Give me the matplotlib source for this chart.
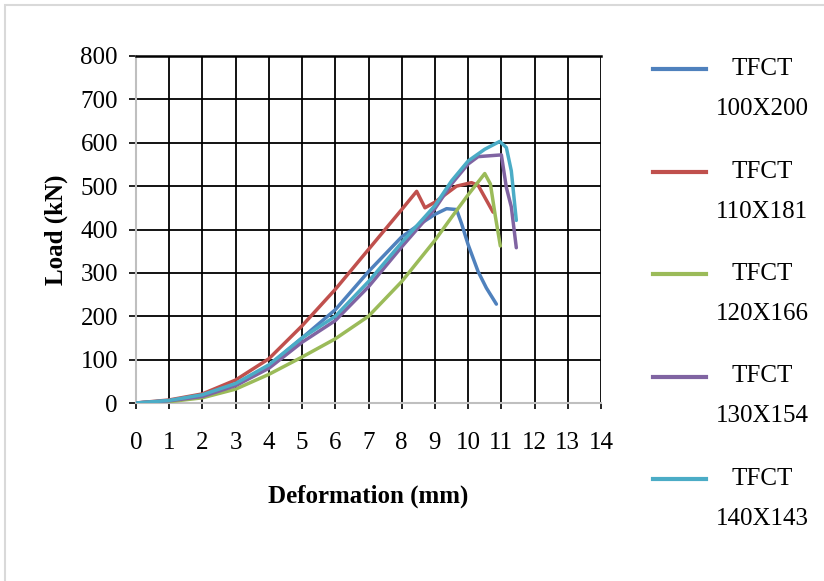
import matplotlib.pyplot as plt
from matplotlib.lines import Line2D
from matplotlib.patches import Rectangle

plt.rcParams['font.family'] = ['Liberation Serif', 'DejaVu Serif']

# Load-deformation readings for each specimen
names = ["TFCT\n100X200", "TFCT\n110X181", "TFCT\n120X166", "TFCT\n130X154", "TFCT\n140X143"]
colors = ["#4F81BD", "#C0504D", "#9BBB59", "#8064A2", "#4BACC6"]

def_100x200 = [0, 1, 2, 3, 4, 5, 6, 7, 8, 8.5, 9, 9.35, 9.65, 9.8, 10, 10.3, 10.55, 10.85]
load_100x200 = [0, 5, 16, 42, 86, 150, 215, 303, 383, 410, 435, 448, 446, 414, 365, 303, 265, 228]

def_110x181 = [0, 1, 2, 3, 4, 5, 6, 7, 8, 8.45, 8.7, 9, 9.65, 10.1, 10.3, 10.75]
load_110x181 = [0, 7, 21, 53, 102, 178, 262, 354, 446, 488, 450, 463, 500, 508, 502, 440]

def_120x166 = [0, 1, 2, 3, 4, 5, 6, 7, 8, 9, 9.5, 10, 10.5, 10.67, 10.82, 10.97]
load_120x166 = [0, 3, 12, 32, 66, 106, 148, 200, 280, 375, 428, 480, 529, 505, 430, 362]

def_130x154 = [0, 1, 2, 3, 4, 5, 6, 7, 8, 9, 9.5, 10, 10.3, 11.0, 11.15, 11.3, 11.45]
load_130x154 = [0, 5, 15, 40, 80, 140, 190, 268, 360, 448, 505, 551, 568, 572, 497, 452, 358]

def_140x143 = [0, 1, 2, 3, 4, 5, 6, 7, 8, 9, 9.5, 10, 10.5, 10.95, 11.15, 11.3, 11.45]
load_140x143 = [0, 6, 19, 45, 88, 150, 200, 280, 370, 455, 512, 558, 585, 603, 589, 535, 421]

series = [(def_100x200, load_100x200), (def_110x181, load_110x181), (def_120x166, load_120x166),
          (def_130x154, load_130x154), (def_140x143, load_140x143)]

W, H = 824, 581
fig = plt.figure(figsize=(W / 100, H / 100), dpi=100)
ax = fig.add_axes([136 / W, 1 - 403 / H, (601 - 136) / W, (403 - 56) / H])

for (x, y), c in zip(series, colors):
    ax.plot(x, y, color=c, lw=2.5, solid_capstyle='round', solid_joinstyle='round', zorder=3)

ax.set_xlim(0, 14)
ax.set_ylim(0, 800)
ax.set_xticks(range(0, 15))
ax.set_yticks(range(0, 801, 100))
ax.grid(True, color='black', lw=1.3)
ax.set_axisbelow(True)

for side in ['left', 'bottom']:
    ax.spines[side].set_color('#BFBFBF')
    ax.spines[side].set_linewidth(1.5)
ax.spines['top'].set_color('black')
ax.spines['top'].set_linewidth(1.8)
ax.spines['right'].set_visible(False)

ax.tick_params(axis='y', direction='out', length=5, width=1.2, color='black', pad=8, labelsize=18)
ax.tick_params(axis='x', direction='out', length=4, width=1.2, color='black', pad=17, labelsize=18)

ax.set_xlabel("Deformation (mm)", fontsize=18, fontweight='bold', labelpad=22)
ax.set_ylabel("Load (kN)", fontsize=18, fontweight='bold', labelpad=9)

# legend on the right, line beside the first row of each label
for i, (name, c) in enumerate(zip(names, colors)):
    yy = 69 + 102.5 * i
    fig.add_artist(Line2D([653 / W, 706 / W], [1 - yy / H, 1 - yy / H],
                          transform=fig.transFigure, color=c, lw=3))
    top, bottom = name.split("\n")
    fig.text(762 / W, 1 - yy / H, top, ha='center', va='center', fontsize=18)
    fig.text(762 / W, 1 - (yy + 40) / H, bottom, ha='center', va='center', fontsize=18)

# outer chart frame
fig.add_artist(Rectangle((5 / W, -0.1), 1.2, 1.1 - 5 / H, transform=fig.transFigure,
                         fill=False, edgecolor='#D9D9D9', lw=1.5))

fig.savefig("out.png", dpi=100)
